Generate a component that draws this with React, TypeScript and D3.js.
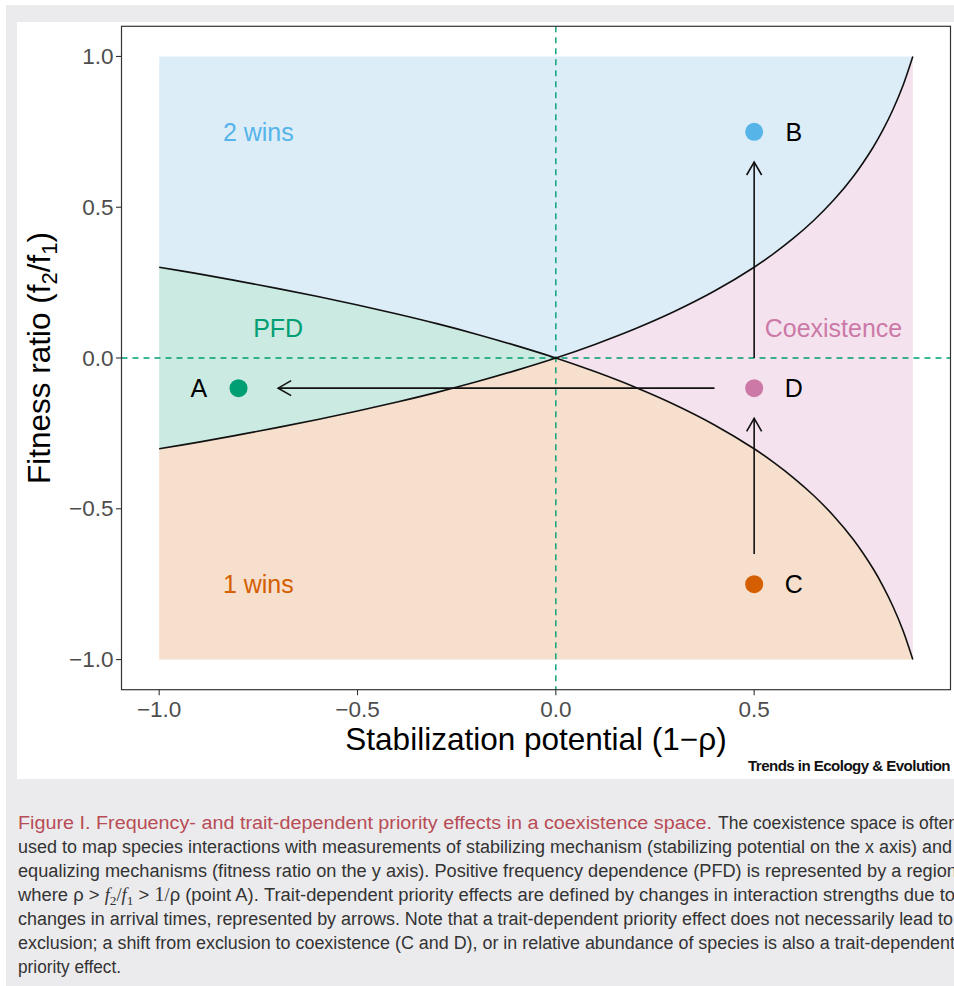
import React from 'react';
import * as d3 from 'd3';

// ---------- data ----------
const stabX = [-1, -0.9, -0.8, -0.7, -0.6, -0.5, -0.4, -0.3, -0.2, -0.1, 0, 0.1, 0.2, 0.3, 0.4, 0.5, 0.55, 0.6, 0.65, 0.7, 0.75, 0.8, 0.825, 0.85, 0.875, 0.9];
// boundary rising from (-1,-0.3) to (0.9,1)
const risingBoundary = [-0.301, -0.279, -0.255, -0.230, -0.204, -0.176, -0.146, -0.114, -0.079, -0.041, 0, 0.046, 0.097, 0.155, 0.222, 0.301, 0.347, 0.398, 0.456, 0.523, 0.602, 0.699, 0.757, 0.824, 0.903, 1.0];
// boundary falling from (-1,0.3) to (0.9,-1)
const fallingBoundary = [0.301, 0.279, 0.255, 0.230, 0.204, 0.176, 0.146, 0.114, 0.079, 0.041, 0, -0.046, -0.097, -0.155, -0.222, -0.301, -0.347, -0.398, -0.456, -0.523, -0.602, -0.699, -0.757, -0.824, -0.903, -1.0];

const pointLabels = ['A', 'B', 'C', 'D'];
const pointX = [-0.8, 0.5, 0.5, 0.5];
const pointY = [-0.1, 0.75, -0.75, -0.1];
const pointColors = ['#009E73', '#56B4E9', '#D55E00', '#CC79A7'];
const letterX = [-0.9, 0.6, 0.6, 0.6];

const regionLabels = ['2 wins', 'PFD', 'Coexistence', '1 wins'];
const regionLabelX = [-0.75, -0.7, 0.7, -0.75];
const regionLabelY = [0.75, 0.1, 0.1, -0.75];
const regionLabelColors = ['#56B4E9', '#009E73', '#CC79A7', '#D55E00'];

const arrowFromX = [0.4, 0.5, 0.5];
const arrowFromY = [-0.1, 0, -0.65];
const arrowToX = [-0.7, 0.5, 0.5];
const arrowToY = [-0.1, 0.65, -0.2];

const xTicks = [-1.0, -0.5, 0.0, 0.5];
const yTicks = [-1.0, -0.5, 0.0, 0.5, 1.0];

const captionLines = [
  'used to map species interactions with measurements of stabilizing mechanism (stabilizing potential on the x axis) and',
  'equalizing mechanisms (fitness ratio on the y axis). Positive frequency dependence (PFD) is represented by a region',
  '',
  'changes in arrival times, represented by arrows. Note that a trait-dependent priority effect does not necessarily lead to',
  'exclusion; a shift from exclusion to coexistence (C and D), or in relative abundance of species is also a trait-dependent',
  'priority effect.',
];
const captionLineEnds = [952, 957, 955, 953, 955, 121];

// ---------- layout ----------
const W = 954;
const H = 986;
const x = d3.scaleLinear().domain([-1.095, 0.995]).range([121.5, 950.5]);
const y = d3.scaleLinear().domain([-1.1, 1.1]).range([689.7, 26.3]);

const SANS = '"Liberation Sans", Arial, Helvetica, sans-serif';
const SERIF = "'Liberation Serif', 'DejaVu Serif', serif";
const fillColors = {
  blue: '#dcedf8',
  green: '#cbeae1',
  pink: '#f4e3ee',
  orange: '#f6dfcc',
};

type P = [number, number];
const curveGen = d3.line<P>().x(d => x(d[0])).y(d => y(d[1])).curve(d3.curveCatmullRom.alpha(0.5));
const straightGen = d3.line<P>().x(d => x(d[0])).y(d => y(d[1]));

function joinPath(segs: string[]) {
  return segs.map((s, i) => (i === 0 ? s : s.replace(/^M/, 'L'))).join('') + 'Z';
}

export default function App() {
  const rising: P[] = stabX.map((v, i) => [v, risingBoundary[i]]);
  const falling: P[] = stabX.map((v, i) => [v, fallingBoundary[i]]);
  const i0 = stabX.indexOf(0);
  const leftR = rising.slice(0, i0 + 1);
  const rightR = rising.slice(i0);
  const leftF = falling.slice(0, i0 + 1);
  const rightF = falling.slice(i0);
  const rev = (a: P[]) => a.slice().reverse();
  const xMin = stabX[0];
  const xMax = stabX[stabX.length - 1];

  const bluePath = joinPath([
    straightGen([[xMin, 1], [xMax, 1]])!,
    curveGen(rev(rightR))!,
    curveGen(rev(leftF))!,
  ]);
  const greenPath = joinPath([curveGen(leftF)!, curveGen(rev(leftR))!]);
  const pinkPath = joinPath([curveGen(rightR)!, curveGen(rev(rightF))!]);
  const orangePath = joinPath([
    straightGen([[xMin, -1], [xMax, -1]])!,
    curveGen(rev(rightF))!,
    curveGen(rev(leftR))!,
  ]);

  const [px0, px1] = x.range();
  const [py0, py1] = y.range(); // bottom, top

  const arrows = arrowFromX.map((_, i) => {
    const x1 = x(arrowFromX[i]);
    const y1 = y(arrowFromY[i]);
    const x2 = x(arrowToX[i]);
    const y2 = y(arrowToY[i]);
    const ang = Math.atan2(y2 - y1, x2 - x1);
    const L = 15;
    const a = Math.PI / 6;
    const h1x = x2 - L * Math.cos(ang - a);
    const h1y = y2 - L * Math.sin(ang - a);
    const h2x = x2 - L * Math.cos(ang + a);
    const h2y = y2 - L * Math.sin(ang + a);
    return { x1, y1, x2, y2, head: `M${h1x},${h1y}L${x2},${y2}L${h2x},${h2y}` };
  });

  const fmt = (v: number) => (v < 0 ? '\u2212' : '') + Math.abs(v).toFixed(1);

  return (
    <svg width={W} height={H} style={{ position: 'absolute', left: 0, top: 0, display: 'block' }} fontFamily={SANS}>
      <rect x={0} y={0} width={W} height={H} fill="#ffffff" />
      <rect x={6} y={5} width={W - 6} height={H - 5} fill="#ebebed" />
      <rect x={17} y={22} width={W - 17} height={757} fill="#ffffff" />

      {/* regions */}
      <path d={bluePath} fill={fillColors.blue} />
      <path d={greenPath} fill={fillColors.green} />
      <path d={pinkPath} fill={fillColors.pink} />
      <path d={orangePath} fill={fillColors.orange} />

      {/* reference lines */}
      <line x1={x(0)} x2={x(0)} y1={py1} y2={py0} stroke="#009E73" strokeWidth={1.4} strokeDasharray="6,5" />
      <line x1={px0} x2={px1} y1={y(0)} y2={y(0)} stroke="#009E73" strokeWidth={1.4} strokeDasharray="6,5" />

      {/* boundaries */}
      <path d={curveGen(rising)!} fill="none" stroke="#111" strokeWidth={1.6} />
      <path d={curveGen(falling)!} fill="none" stroke="#111" strokeWidth={1.6} />

      {/* arrows */}
      {arrows.map((a, i) => (
        <g key={i} stroke="#111" strokeWidth={1.6} fill="none">
          <line x1={a.x1} y1={a.y1} x2={a.x2} y2={a.y2} />
          <path d={a.head} />
        </g>
      ))}

      {/* points */}
      {pointLabels.map((lab, i) => (
        <g key={lab}>
          <circle cx={x(pointX[i])} cy={y(pointY[i])} r={9} fill={pointColors[i]} />
          <text x={x(letterX[i])} y={y(pointY[i])} textAnchor="middle" dominantBaseline="central" fontSize={25} fill="#000">{lab}</text>
        </g>
      ))}

      {/* region labels */}
      {regionLabels.map((lab, i) => (
        <text key={lab} x={x(regionLabelX[i])} y={y(regionLabelY[i])} textAnchor="middle" dominantBaseline="central" fontSize={25} fill={regionLabelColors[i]}>{lab}</text>
      ))}

      {/* panel border */}
      <rect x={px0} y={py1} width={px1 - px0} height={py0 - py1} fill="none" stroke="#333" strokeWidth={1.2} />

      {/* x axis */}
      {xTicks.map(t => (
        <g key={t}>
          <line x1={x(t)} x2={x(t)} y1={py0} y2={py0 + 5.5} stroke="#333" strokeWidth={1.1} />
          <text x={x(t)} y={py0 + 27} textAnchor="middle" fontSize={22.5} fill="#4d4d4d">{fmt(t)}</text>
        </g>
      ))}
      {/* y axis */}
      {yTicks.map(t => (
        <g key={t}>
          <line x1={px0 - 5.5} x2={px0} y1={y(t)} y2={y(t)} stroke="#333" strokeWidth={1.1} />
          <text x={px0 - 8} y={y(t)} textAnchor="end" dominantBaseline="central" fontSize={22.5} fill="#4d4d4d">{fmt(t)}</text>
        </g>
      ))}

      {/* axis titles */}
      <text x={(px0 + px1) / 2} y={750} textAnchor="middle" fontSize={31.5} fill="#000">
        Stabilization potential (1{'\u2212'}ρ)
      </text>
      <text transform={`translate(50,${(py0 + py1) / 2}) rotate(-90)`} textAnchor="middle" fontSize={31.5} fill="#000">
        Fitness ratio (f<tspan fontSize={22} dy={7}>2</tspan><tspan dy={-7}>/f</tspan><tspan fontSize={22} dy={7}>1</tspan><tspan dy={-7}>)</tspan>
      </text>

      {/* journal mark */}
      <text x={748} y={771} fontSize={14} fontWeight="bold" fill="#111" textLength={202} lengthAdjust="spacingAndGlyphs" letterSpacing={-0.5}>
        Trends in Ecology &amp; Evolution
      </text>

      {/* caption */}
      <g fontSize={18}>
        <text x={18} y={829} fill="#b84c56" textLength={694} lengthAdjust="spacingAndGlyphs">
          Figure I. Frequency- and trait-dependent priority effects in a coexistence space.
        </text>
        <text x={718} y={829} fill="#333" textLength={240} lengthAdjust="spacingAndGlyphs">
          The coexistence space is often
        </text>
        {captionLines.map((ln, i) =>
          i === 2 ? (
            <text key={i} x={18} y={853 + 24 * i} fill="#333" textLength={captionLineEnds[i] - 18} lengthAdjust="spacingAndGlyphs">
              where ρ {'>'} <tspan fontFamily={SERIF} fontStyle="italic">f</tspan>
              <tspan fontFamily={SERIF} fontSize={13} dy={4}>2</tspan>
              <tspan fontFamily={SERIF} dy={-4}>/</tspan>
              <tspan fontFamily={SERIF} fontStyle="italic">f</tspan>
              <tspan fontFamily={SERIF} fontSize={13} dy={4}>1</tspan>
              <tspan dy={-4}> {'>'} </tspan>
              <tspan fontFamily={SERIF} fontSize={20}>1</tspan>
              <tspan fontFamily={SERIF}>/</tspan>
              <tspan>ρ (point A). Trait-dependent priority effects are defined by changes in interaction strengths due to</tspan>
            </text>
          ) : (
            <text key={i} x={18} y={853 + 24 * i} fill="#333" textLength={captionLineEnds[i] - 18} lengthAdjust="spacingAndGlyphs">
              {ln}
            </text>
          )
        )}
      </g>
    </svg>
  );
}
